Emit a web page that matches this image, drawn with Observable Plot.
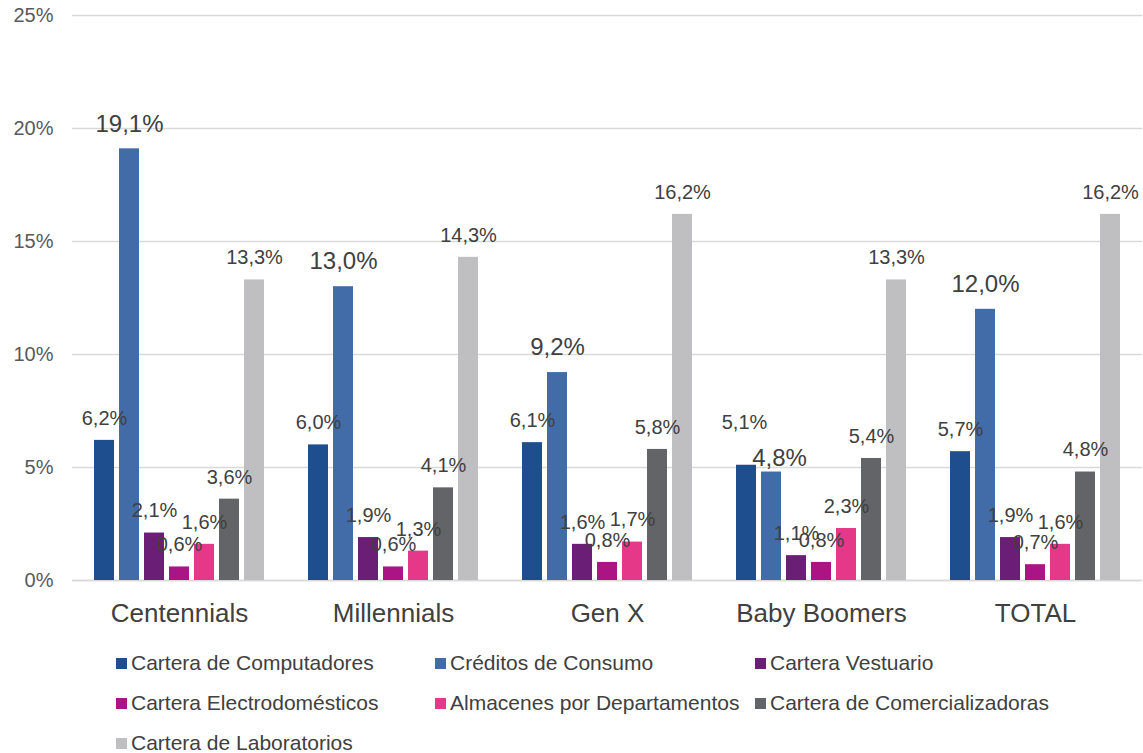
<!DOCTYPE html>
<html>
<head>
<meta charset="utf-8">
<script src="https://cdn.jsdelivr.net/npm/d3@7"></script>
<script src="https://cdn.jsdelivr.net/npm/@observablehq/plot@0.6"></script>
<style>
  body { margin: 0; background: #fff; font-family: "Liberation Sans", Arial, sans-serif; }
  #chart { position: relative; width: 1143px; }
  .legend { position: relative; width: 1143px; height: 113px; color: #404040; font-size: 21px; }
  .item { position: absolute; display: flex; align-items: center; white-space: nowrap; height: 24px; }
  .sw { width: 11px; height: 11px; margin-right: 4px; display: inline-block; }
</style>
</head>
<body>
<div id="chart"></div>
<div class="legend" id="legend"></div>
<script>
const groups = ["Centennials", "Millennials", "Gen X", "Baby Boomers", "TOTAL"];
const series = [
  "Cartera de Computadores",
  "Créditos de Consumo",
  "Cartera Vestuario",
  "Cartera Electrodomésticos",
  "Almacenes por Departamentos",
  "Cartera de Comercializadoras",
  "Cartera de Laboratorios"
];
const colors = ["#1f4e8e", "#426ca8", "#6a1e75", "#ab1485", "#e63888", "#626468", "#bfbfc1"];
// values per series, in order of groups
const computadores     = [6.2, 6.0, 6.1, 5.1, 5.7];
const consumo          = [19.1, 13.0, 9.2, 4.8, 12.0];
const vestuario        = [2.1, 1.9, 1.6, 1.1, 1.9];
const electro          = [0.6, 0.6, 0.8, 0.8, 0.7];
const almacenes        = [1.6, 1.3, 1.7, 2.3, 1.6];
const comercializadoras= [3.6, 4.1, 5.8, 5.4, 4.8];
const laboratorios     = [13.3, 14.3, 16.2, 13.3, 16.2];
const yTicks = [0, 5, 10, 15, 20, 25];

const seriesValues = [computadores, consumo, vestuario, electro, almacenes, comercializadoras, laboratorios];
const data = [];
groups.forEach((g, gi) => {
  series.forEach((s, si) => {
    data.push({group: g, series: s, value: seriesValues[si][gi]});
  });
});
const fmt = v => v.toFixed(1).replace(".", ",") + "%";
const big = s => s === "Créditos de Consumo";
// label nudges (Excel-style collision avoidance in the reference)
const nudge = d => {
  if (d.group === "Baby Boomers" && d.series === series[0]) return {dx: -2, dy: -43};
  if (d.group === "Baby Boomers" && d.series === series[1]) return {dx: 8, dy: -14};
  return null;
};

const plot = Plot.plot({
  width: 1143,
  height: 640,
  marginTop: 15,
  marginLeft: 72,
  marginRight: 1,
  marginBottom: 60,
  style: {fontFamily: "'Liberation Sans', Arial, sans-serif", color: "#404040", background: "#fff"},
  fx: {domain: groups, padding: 0, label: null},
  x: {domain: series, paddingInner: 0.2, paddingOuter: 0.88, axis: null},
  y: {domain: [0, 25], ticks: yTicks, label: null},
  color: {domain: series, range: colors},
  marks: [
    Plot.gridY(yTicks, {stroke: "#d9d9d9", strokeOpacity: 1, strokeWidth: 1.5}),
    Plot.ruleY([0], {stroke: "#d9d9d9", strokeWidth: 1.5}),
    Plot.axisY({ticks: yTicks, tickFormat: d => d + "%", tickSize: 0, tickPadding: 19, fontSize: 20, fill: "#595959", label: null}),
    Plot.axisFx({anchor: "bottom", tickSize: 0, tickPadding: 23, fontSize: 26, fill: "#404040", label: null}),
    Plot.barY(data, {fx: "group", x: "series", y: "value", fill: "series"}),
    Plot.text(data.filter(d => !big(d.series) && !nudge(d)), {fx: "group", x: "series", y: "value", text: d => fmt(d.value), dy: -22, fontSize: 20, fill: "#404040"}),
    Plot.text(data.filter(d => big(d.series) && !nudge(d)), {fx: "group", x: "series", y: "value", text: d => fmt(d.value), dy: -25, fontSize: 24, fill: "#404040"}),
    ...data.filter(d => nudge(d)).map(d => Plot.text([d], {fx: "group", x: "series", y: "value", text: d => fmt(d.value), dx: nudge(d).dx, dy: nudge(d).dy, fontSize: big(d.series) ? 24 : 20, fill: "#404040"}))
  ]
});
document.getElementById("chart").appendChild(plot);

const legend = document.getElementById("legend");
const colX = [116, 435, 755];
series.forEach((s, i) => {
  const el = document.createElement("div");
  el.className = "item";
  el.style.left = colX[i % 3] + "px";
  el.style.top = (23 + Math.floor(i / 3) * 40 - 12) + "px";
  el.innerHTML = `<span class="sw" style="background:${colors[i]}"></span><span>${s}</span>`;
  legend.appendChild(el);
});
</script>
</body>
</html>
